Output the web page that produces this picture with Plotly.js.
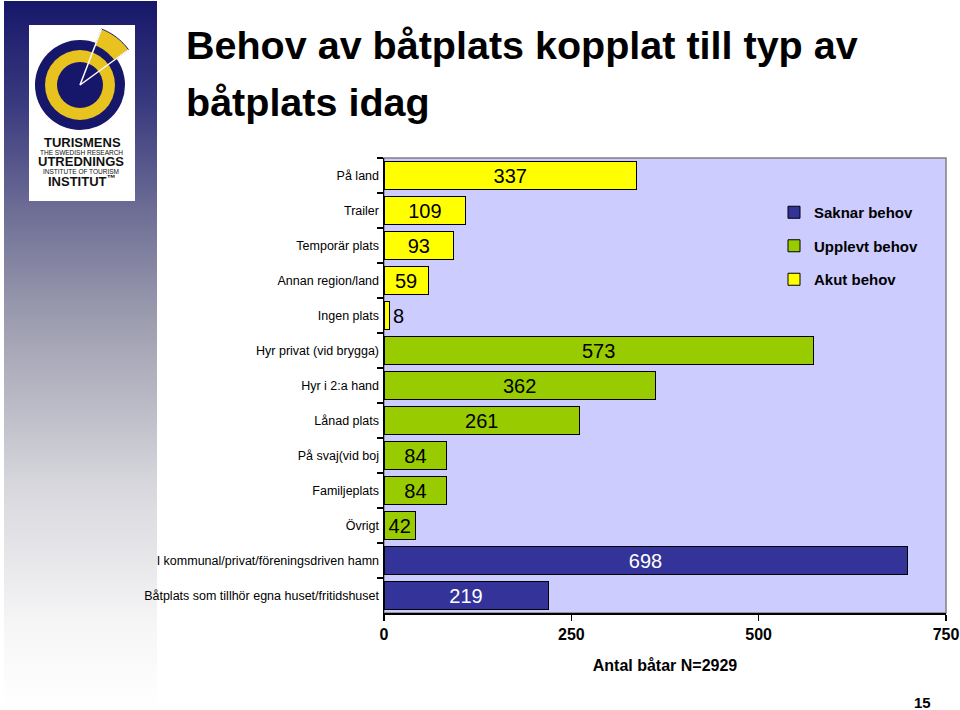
<!DOCTYPE html>
<html>
<head>
<meta charset="utf-8">
<script src="https://cdn.plot.ly/plotly-3.0.1.min.js"></script>
<style>
  html, body { margin: 0; padding: 0; background: #ffffff; }
  #wrap { position: relative; width: 960px; height: 710px; overflow: hidden; }
  #panel { position: absolute; left: 4px; top: 1px; width: 153px; height: 709px;
    background: linear-gradient(to bottom, #17176a 0%, #3b3b80 15%, #6f6f96 30%, #9d9db0 45%, #d6d6dc 68%, #f6f6f7 88%, #ffffff 100%); }
  #chart { position: absolute; left: 0; top: 0; width: 960px; height: 710px; }
</style>
</head>
<body>
<div id="wrap">
  <div id="panel"></div>
  <div id="chart"></div>
</div>
<script>
// ---- data ----
const categories = [
  "På land", "Trailer", "Temporär plats", "Annan region/land", "Ingen plats",
  "Hyr privat (vid brygga)", "Hyr i 2:a hand", "Lånad plats", "På svaj(vid boj",
  "Familjeplats", "Övrigt",
  "I kommunal/privat/föreningsdriven hamn", "Båtplats som tillhör egna huset/fritidshuset"
];
const akutCategories = ["På land", "Trailer", "Temporär plats", "Annan region/land", "Ingen plats"];
const akutValues = [337, 109, 93, 59, 8];
const upplevtCategories = ["Hyr privat (vid brygga)", "Hyr i 2:a hand", "Lånad plats", "På svaj(vid boj", "Familjeplats", "Övrigt"];
const upplevtValues = [573, 362, 261, 84, 84, 42];
const saknarCategories = ["I kommunal/privat/föreningsdriven hamn", "Båtplats som tillhör egna huset/fritidshuset"];
const saknarValues = [698, 219];
const seriesNames = ["Saknar behov", "Upplevt behov", "Akut behov"];
const xTickValues = [0, 250, 500, 750];

// ---- layout helpers (pixel -> paper) ----
const W = 960, H = 710;
const M = {l: 384, r: 14, t: 158, b: 97};
const PW = W - M.l - M.r, PH = H - M.t - M.b;
const px = x => (x - M.l) / PW;
const py = y => (H - M.b - y) / PH;

const FONT = "Liberation Sans, Arial, sans-serif";

function barTrace(name, cats, vals, color, txtColor) {
  return {
    type: "bar", orientation: "h", name: name, legendgroup: name,
    y: cats, x: vals,
    marker: {color: color, line: {color: "#000000", width: 1}},
    text: vals.map(String),
    textposition: vals.map(v => v < 20 ? "outside" : "inside"),
    insidetextanchor: "middle",
    textangle: 0,
    constraintext: "none",
    cliponaxis: false,
    insidetextfont: {family: FONT, size: 20, color: txtColor},
    outsidetextfont: {family: FONT, size: 20, color: "#000000"},
    hoverinfo: "x+y"
  };
}

const data = [
  barTrace(seriesNames[0], saknarCategories, saknarValues, "#333399", "#ffffff"),
  barTrace(seriesNames[1], upplevtCategories, upplevtValues, "#99CC00", "#000000"),
  barTrace(seriesNames[2], akutCategories, akutValues, "#FFFF00", "#000000")
];

// logo geometry
const cx = 80, cy = 85;
function circ(r, color) {
  return {type: "circle", xref: "paper", yref: "paper",
    x0: px(cx - r), x1: px(cx + r), y0: py(cy + r), y1: py(cy - r),
    fillcolor: color, line: {color: color, width: 0}, layer: "above"};
}
function polar(r, deg) {
  const a = deg * Math.PI / 180;
  return [px(cx + r * Math.cos(a)), py(cy - r * Math.sin(a))];
}
function sectorPath(r0, r1, a0, a1) {
  const pts = [];
  const n = 16;
  for (let i = 0; i <= n; i++) pts.push(polar(r1, a0 + (a1 - a0) * i / n));
  for (let i = n; i >= 0; i--) pts.push(polar(r0, a0 + (a1 - a0) * i / n));
  return "M" + pts.map(p => p[0] + "," + p[1]).join(" L") + " Z";
}
const c = polar(0, 0), e1 = polar(60, 36), e2 = polar(60, 69);

const shapes = [
  // plot frame (top/right grey)
  {type: "rect", xref: "paper", yref: "paper", x0: 0, x1: 1, y0: 0, y1: 1,
   line: {color: "#808080", width: 1.5}, fillcolor: "rgba(0,0,0,0)", layer: "below"},
  // logo box
  {type: "rect", xref: "paper", yref: "paper", x0: px(29), x1: px(135), y0: py(201), y1: py(25),
   fillcolor: "#ffffff", line: {width: 0}, layer: "above"},
  circ(45, "#16166a"),
  circ(35, "#E8C21E"),
  circ(23, "#16166a"),
  {type: "path", xref: "paper", yref: "paper", path: sectorPath(42, 60, 36, 69),
   fillcolor: "#E8C21E", line: {color: "#16166a", width: 1}, layer: "above"},
  {type: "line", xref: "paper", yref: "paper", x0: c[0], y0: c[1], x1: e1[0], y1: e1[1],
   line: {color: "#ffffff", width: 1.5}, layer: "above"},
  {type: "line", xref: "paper", yref: "paper", x0: c[0], y0: c[1], x1: e2[0], y1: e2[1],
   line: {color: "#ffffff", width: 1.5}, layer: "above"}
];

function ann(text, x, y, size, bold, opts) {
  return Object.assign({
    text: bold ? "<b>" + text + "</b>" : text, xref: "paper", yref: "paper",
    x: px(x), y: py(y), xanchor: "center", yanchor: "middle", showarrow: false,
    borderpad: 0,
    font: {family: FONT, size: size, color: "#111111"}
  }, opts || {});
}

const annotations = [
  ann("Behov av båtplats kopplat till typ av", 185, 45, 39.5, true, {xanchor: "left", font: {family: FONT, size: 39.5, color: "#000000"}}),
  ann("båtplats idag", 185, 102, 39.5, true, {xanchor: "left", font: {family: FONT, size: 39.5, color: "#000000"}}),
  ann("TURISMENS", 82, 142.5, 13, true),
  ann("THE SWEDISH RESEARCH", 81, 152, 6.5, false),
  ann("UTREDNINGS", 81, 161.5, 13, true),
  ann("INSTITUTE OF TOURISM", 81, 171, 6.5, false),
  ann("INSTITUT<sup>™</sup>", 82, 181, 13, true),
  ann("15", 922, 702, 15, true, {font: {family: FONT, size: 15, color: "#000000"}})
];

const layout = {
  width: W, height: H,
  margin: M,
  paper_bgcolor: "rgba(0,0,0,0)",
  plot_bgcolor: "#CCCCFF",
  barmode: "stack",
  bargap: 0.22,
  showlegend: true,
  legend: {
    x: px(774), y: py(196), xanchor: "left", yanchor: "top",
    bgcolor: "rgba(0,0,0,0)", borderwidth: 0,
    font: {family: FONT, size: 15, color: "#000000", weight: "bold"},
    traceorder: "grouped", tracegroupgap: 11, itemwidth: 30
  },
  xaxis: {
    range: [0, 750], tickvals: xTickValues, ticktext: xTickValues.map(String),
    ticks: "outside", ticklen: 6, tickcolor: "#000000", tickwidth: 1.5,
    showline: true, linecolor: "#000000", linewidth: 1.5,
    showgrid: false, zeroline: false, fixedrange: true,
    ticklabeloverflow: "allow",
    tickfont: {family: FONT, size: 16, color: "#000000", weight: "bold"},
    title: {text: "<b>Antal båtar N=2929</b>", font: {family: FONT, size: 16, color: "#000000"}, standoff: 18}
  },
  yaxis: {
    type: "category", categoryorder: "array", categoryarray: categories,
    autorange: "reversed",
    ticks: "outside", tickson: "boundaries", ticklen: 6, tickcolor: "#000000", tickwidth: 1.5,
    showline: true, linecolor: "#000000", linewidth: 1.5,
    showgrid: false, zeroline: false, fixedrange: true,
    ticklabelstandoff: 1,
    tickfont: {family: FONT, size: 12.5, color: "#000000"}
  },
  shapes: shapes,
  annotations: annotations
};

Plotly.newPlot("chart", data, layout, {displayModeBar: false, staticPlot: true});
</script>
</body>
</html>
